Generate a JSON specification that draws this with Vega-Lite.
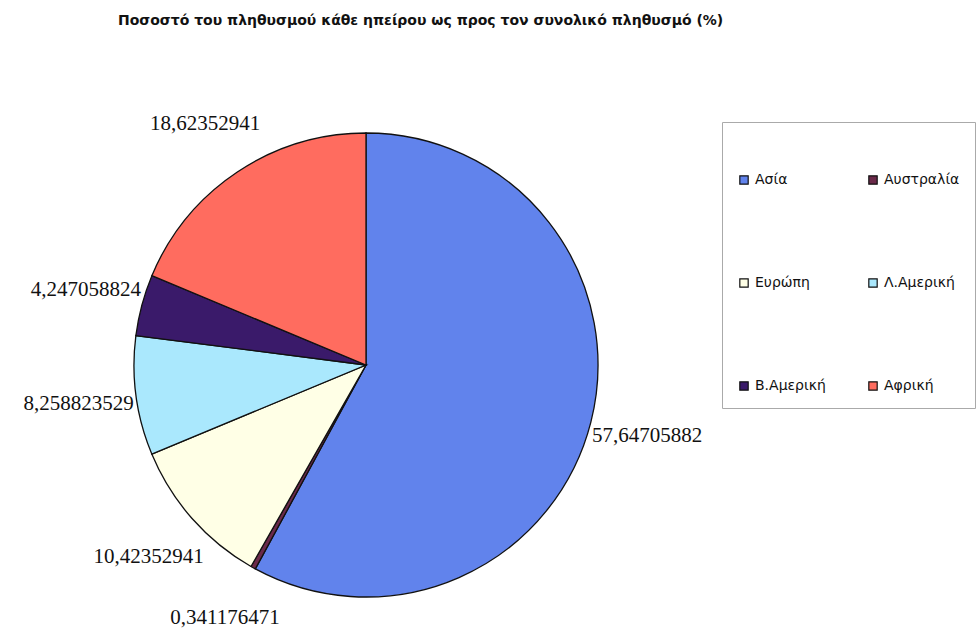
{
  "$schema": "https://vega.github.io/schema/vega-lite/v6.json",
  "autosize": "none",
  "width": 464,
  "height": 464,
  "padding": {"left": 134, "top": 133, "right": 381, "bottom": 35},
  "background": "white",
  "config": {"view": {"stroke": null}},
  "title": {
    "text": "Ποσοστό του πληθυσμού κάθε ηπείρου ως προς τον συνολικό πληθυσμό (%)",
    "anchor": "start",
    "frame": "group",
    "orient": "top",
    "font": "DejaVu Sans",
    "fontSize": 14,
    "fontWeight": "bold",
    "color": "#111111",
    "dx": -16,
    "offset": 85
  },
  "data": {
    "values": [
      {"continent": "Ασία", "value": 57.64705882, "label": "57,64705882", "order": 1},
      {"continent": "Αυστραλία", "value": 0.341176471, "label": "0,341176471", "order": 2},
      {"continent": "Ευρώπη", "value": 10.42352941, "label": "10,42352941", "order": 3},
      {"continent": "Λ.Αμερική", "value": 8.258823529, "label": "8,258823529", "order": 4},
      {"continent": "Β.Αμερική", "value": 4.247058824, "label": "4,247058824", "order": 5},
      {"continent": "Αφρική", "value": 18.62352941, "label": "18,62352941", "order": 6}
    ]
  },
  "encoding": {
    "theta": {"field": "value", "type": "quantitative", "stack": true},
    "order": {"field": "order", "type": "quantitative"}
  },
  "layer": [
    {
      "mark": {"type": "arc", "outerRadius": 232, "stroke": "#111111", "strokeWidth": 1.3},
      "encoding": {
        "color": {
          "field": "continent",
          "type": "nominal",
          "sort": ["Ασία", "Αυστραλία", "Ευρώπη", "Λ.Αμερική", "Β.Αμερική", "Αφρική"],
          "scale": {
            "domain": ["Ασία", "Αυστραλία", "Ευρώπη", "Λ.Αμερική", "Β.Αμερική", "Αφρική"],
            "range": ["#6183ec", "#6b2a4a", "#ffffe6", "#aae8fd", "#3a1a6a", "#ff6c5f"]
          },
          "legend": {
            "title": " ",
            "titleFontSize": 12,
            "titlePadding": 24,
            "orient": "none",
            "legendX": 588,
            "legendY": -11,
            "direction": "horizontal",
            "columns": 2,
            "columnPadding": 40,
            "rowPadding": 89,
            "padding": 15,
            "symbolType": "square",
            "symbolSize": 70,
            "symbolStrokeColor": "#111111",
            "symbolStrokeWidth": 1.2,
            "symbolOpacity": 1,
            "labelFont": "DejaVu Sans",
            "labelFontSize": 14,
            "labelOffset": 4,
            "labelColor": "#111111",
            "labelLimit": 200,
            "strokeColor": "#aaaaaa",
            "fillColor": "white",
            "offset": 0
          }
        }
      }
    },
    {
      "mark": {
        "type": "text",
        "radius": 290,
        "font": "Liberation Serif",
        "fontSize": 21,
        "color": "#111111",
        "align": "center",
        "baseline": "middle"
      },
      "encoding": {
        "text": {"field": "label", "type": "nominal"}
      }
    }
  ]
}
